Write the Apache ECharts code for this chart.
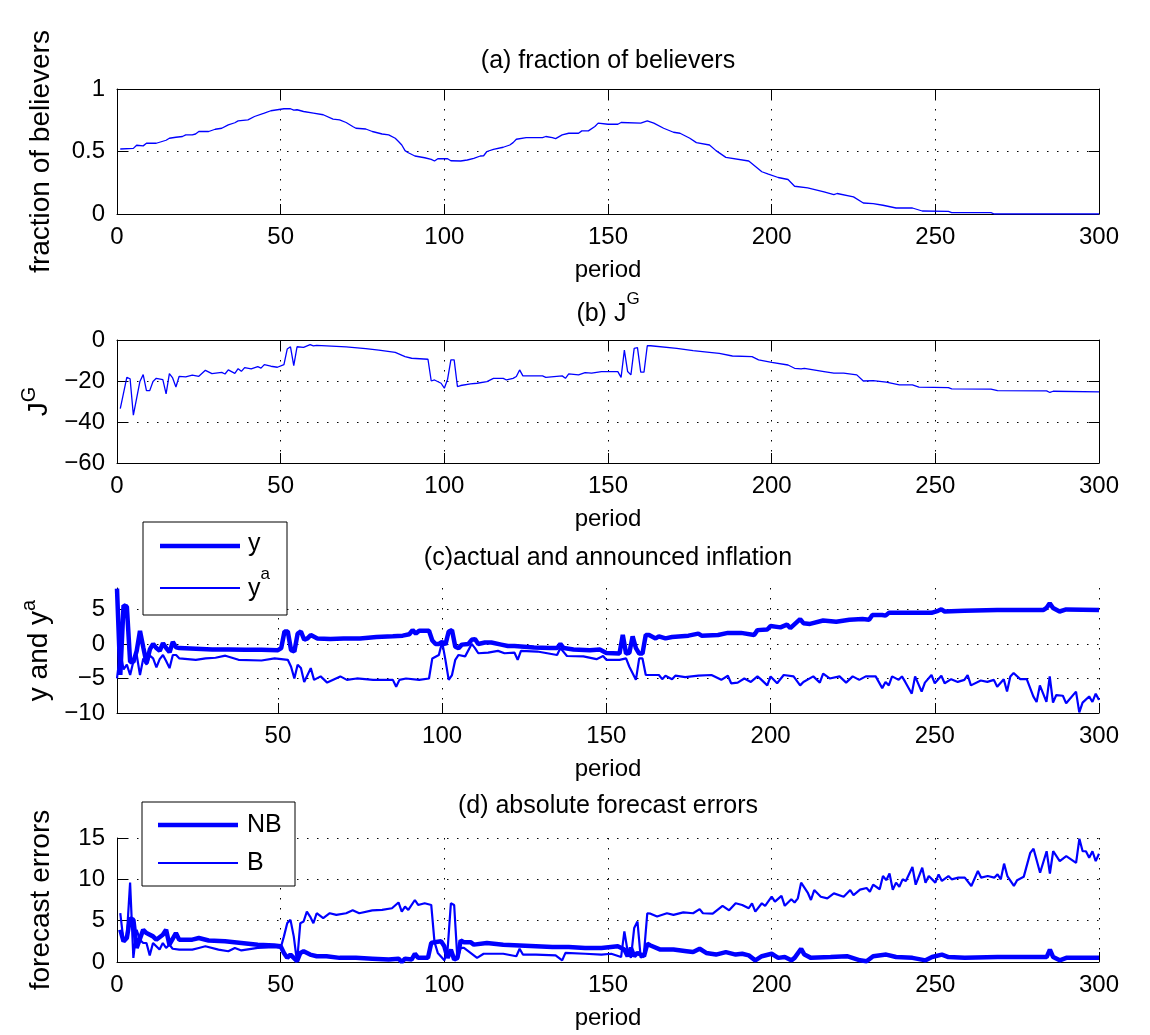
<!DOCTYPE html>
<html lang="en">
<head>
<meta charset="UTF-8">
<title>believers</title>
<script src="https://cdn.jsdelivr.net/npm/echarts@6/dist/echarts.min.js"></script>
</head>
<body style="margin:0;background:#fff">
<div id="main" style="width:1150px;height:1035px;"></div>
<script>
// (a) fraction of believers
var fracPeriods = [1,5,6,8,9,12,15,16,18,20,
  21,23,24,25,28,30,32,34,36,37,
  40,42,45,47,49,51,53,54,55,57,
  60,63,66,68,70,72,73,76,78,81,
  83,85,86,87,88,89,91,94,96,97,
  98,101,102,105,107,109,111,112,113,115,
  118,120,121,122,125,130,131,133,134,136,
  138,141,142,144,146,147,150,153,154,160,
  162,164,167,170,172,175,177,181,183,186,
  193,197,199,202,205,207,211,216,219,220,
  225,228,231,234,238,243,246,254,255,267,
  268,300];
var fracValues = [0.52,0.525,0.55,0.545,0.566,0.566,0.59,0.606,0.614,0.62,
  0.633,0.633,0.64,0.66,0.66,0.678,0.686,0.713,0.73,0.745,
  0.753,0.78,0.807,0.826,0.834,0.842,0.842,0.831,0.834,0.82,
  0.807,0.794,0.759,0.753,0.732,0.70,0.686,0.68,0.66,0.64,
  0.633,0.606,0.58,0.552,0.507,0.49,0.464,0.45,0.437,0.424,
  0.442,0.442,0.426,0.424,0.432,0.445,0.464,0.466,0.50,0.517,
  0.534,0.552,0.571,0.598,0.611,0.611,0.62,0.611,0.603,0.633,
  0.646,0.646,0.665,0.665,0.70,0.727,0.718,0.718,0.732,0.727,
  0.745,0.727,0.686,0.654,0.646,0.606,0.571,0.552,0.507,0.453,
  0.424,0.338,0.319,0.292,0.276,0.222,0.209,0.177,0.155,0.164,
  0.137,0.088,0.083,0.07,0.048,0.048,0.024,0.021,0.011,0.011,
  0,0];

// (b) J^G
var jgPeriods = [1,3,4,5,7,8,9,10,11,12,
  14,15,16,17,18,19,21,23,25,27,
  29,32,33,34,36,37,38,39,41,43,
  44,45,47,49,51,52,53,54,55,57,
  59,60,61,70,76,80,85,88,90,95,
  96,97,99,100,101,102,103,104,105,108,
  110,113,115,118,119,121,122,123,124,130,
  131,136,137,138,141,143,145,148,153,154,
  155,156,157,158,159,160,161,162,163,171,
  176,181,184,188,194,196,200,205,207,209,
  210,216,219,222,226,228,231,235,239,243,
  245,254,255,267,269,284,285,286,300];
var jgValues = [-33.5,-18.2,-18.9,-36.7,-20.2,-16.9,-24.7,-24.7,-20.2,-18.7,
  -19.3,-26.3,-16.4,-18.5,-22.9,-17.7,-18.0,-17.1,-17.7,-14.8,
  -16.4,-15.8,-16.6,-14.6,-16.3,-14.0,-15.3,-13.5,-14.1,-13.0,
  -13.7,-12.0,-12.8,-13.3,-12.0,-4.4,-3.3,-12.5,-3.3,-3.6,
  -2.3,-2.9,-2.6,-3.4,-4.2,-4.9,-6.0,-8.1,-8.9,-9.4,
  -20.0,-19.5,-21.1,-23.5,-19.1,-9.7,-9.7,-22.7,-22.2,-21.4,
  -21.1,-20.3,-18.7,-18.7,-19.5,-18.7,-17.8,-14.6,-17.5,-17.5,
  -18.2,-17.5,-18.7,-16.5,-17.0,-15.9,-16.2,-15.4,-15.4,-18.2,
  -4.9,-15.4,-17.0,-4.1,-3.7,-15.7,-15.7,-2.8,-2.8,-4.1,
  -5.2,-6.0,-6.5,-7.8,-8.1,-9.7,-10.9,-12.2,-13.8,-14.1,
  -13.8,-15.4,-16.2,-16.2,-17.0,-20.0,-19.8,-20.6,-21.9,-21.9,
  -23.0,-23.2,-23.8,-24.0,-24.7,-24.8,-25.6,-25.0,-25.3];

// (c) actual inflation y
var yPeriods = [1,2,3,4,5,6,7,8,9,10,
  11,12,13,14,15,16,17,18,19,20,
  25,30,35,40,45,50,51,52,53,54,
  55,56,57,58,59,60,62,66,70,75,
  80,85,88,90,91,92,93,96,97,98,
  99,100,101,102,103,104,105,106,108,109,
  110,111,113,115,118,120,122,125,128,133,
  135,136,137,140,145,148,150,154,155,156,
  157,158,159,160,161,162,163,165,166,168,
  170,175,178,179,184,187,191,195,196,199,
  200,203,205,206,209,210,212,216,220,224,
  228,230,231,234,235,236,244,249,251,252,
  253,259,269,283,284,285,286,288,290,300];
var yValues = [8.0,-4.5,5.6,5.4,-2.6,-2.6,-1.0,1.9,-0.5,-2.8,
  -0.8,0.0,-0.6,-1.0,0.1,-0.6,-1.2,0.3,-0.5,-0.6,
  -0.7,-0.8,-0.8,-0.85,-0.85,-0.9,-0.6,1.8,1.8,-0.9,
  -1.1,1.5,1.8,0.6,0.8,1.3,0.8,0.7,0.8,0.8,
  1.0,1.1,1.2,1.4,2.0,1.5,1.9,1.9,0.5,0.0,
  0.0,0.3,-0.1,1.8,2.0,-0.4,-0.6,-0.1,0.0,0.6,
  0.7,0.0,0.2,0.2,-0.1,-0.3,-0.3,-0.4,-0.5,-0.6,
  -0.6,0.0,-0.6,-0.8,-0.9,-0.8,-1.3,-1.4,1.3,-1.4,
  -1.3,1.1,-0.6,-1.4,-1.4,1.3,1.3,0.8,1.1,0.8,
  1.0,1.2,1.5,1.2,1.3,1.6,1.6,1.3,2.0,2.1,
  2.6,2.4,2.8,2.3,3.6,3.0,2.9,3.4,3.2,3.5,
  3.6,3.5,4.2,4.2,4.1,4.5,4.5,4.5,4.8,5.0,
  4.7,4.8,4.9,4.9,5.2,5.9,5.2,4.7,5.0,4.9];

// (c) announced inflation y^a
var yaPeriods = [1,2,3,4,5,6,7,8,9,10,
  11,12,13,14,15,16,17,18,19,20,
  25,28,31,34,38,45,49,51,53,54,
  55,56,57,58,60,61,63,65,69,71,
  74,79,85,86,87,89,93,96,97,99,
  100,101,102,103,104,105,107,109,110,111,
  114,117,119,122,123,124,129,135,136,138,
  143,147,149,150,154,156,157,159,160,161,
  162,166,167,168,170,171,174,178,182,185,
  187,188,190,192,194,196,197,199,200,202,
  204,207,209,210,213,215,216,218,221,223,
  225,227,229,232,234,235,236,237,239,240,
  241,243,244,246,247,249,250,252,253,255,
  257,259,260,261,264,266,268,269,271,272,
  273,274,276,278,280,281,282,284,285,286,
  287,289,290,293,294,295,297,298,299,300];
var yaValues = [-5.0,-1.1,-3.7,-3.0,-4.5,-2.5,-1.6,-4.5,-2.1,-3.0,
  -1.7,-2.1,-3.4,-2.2,-1.6,-2.5,-3.5,-1.6,-1.6,-2.1,
  -2.3,-2.1,-2.0,-1.7,-2.3,-2.4,-2.1,-2.2,-2.3,-3.3,
  -5.0,-3.0,-3.5,-5.5,-3.5,-5.2,-4.7,-5.6,-4.7,-5.2,
  -5.0,-5.2,-5.2,-6.2,-5.2,-5.0,-5.2,-5.0,-2.1,-1.6,
  0.3,-2.3,-5.2,-4.5,-2.3,-1.6,-1.8,0.0,-0.6,-1.35,
  -1.25,-1.0,-1.35,-1.25,-2.3,-1.0,-1.1,-1.6,-0.6,-1.75,
  -1.8,-2.2,-1.75,-2.3,-2.3,-2.1,-3.3,-5.2,-2.1,-2.1,
  -4.5,-4.5,-5.1,-4.6,-5.1,-4.6,-4.8,-4.6,-4.5,-5.2,
  -4.6,-5.7,-5.6,-5.0,-5.5,-4.7,-5.1,-6.0,-4.7,-5.7,
  -4.5,-4.7,-6.0,-5.5,-4.7,-5.6,-4.3,-5.0,-4.7,-5.6,
  -4.7,-5.2,-4.7,-4.7,-6.4,-5.5,-6.0,-4.7,-5.2,-4.7,
  -5.5,-7.2,-4.7,-6.9,-5.6,-4.5,-5.7,-4.6,-5.7,-5.1,
  -5.5,-5.2,-4.5,-6.0,-5.3,-5.5,-5.2,-6.2,-5.1,-6.9,
  -4.7,-4.2,-5.1,-5.1,-7.6,-8.4,-6.0,-8.4,-4.7,-8.5,
  -7.4,-7.5,-8.6,-6.9,-9.9,-8.5,-7.6,-8.4,-7.2,-8.1];

// (d) absolute forecast errors, non-believers
var nbPeriods = [1,2,3,4,5,6,8,9,11,12,
  14,15,16,18,19,23,25,28,33,38,
  43,48,50,51,52,53,55,56,57,59,
  61,64,68,73,78,83,86,87,88,90,
  91,92,95,96,97,99,100,101,102,103,
  104,105,106,108,109,113,118,123,128,133,
  138,143,148,153,155,156,157,158,159,161,
  162,163,166,170,174,176,178,180,183,186,
  189,191,193,195,197,200,202,204,206,207,
  209,210,212,218,223,227,229,231,235,238,
  243,247,249,252,254,259,269,284,285,286,
  288,290,300];
var nbValues = [3.9,2.5,2.9,5.3,5.1,1.7,3.9,3.5,3.1,2.7,
  3.3,3.9,2.1,3.5,2.7,2.7,2.9,2.6,2.5,2.3,
  2.1,2.0,1.9,1.1,0.5,0.9,0.1,1.1,1.3,0.9,
  0.7,0.7,0.5,0.5,0.4,0.3,0.4,0.0,0.4,0.3,
  1.0,0.5,0.5,2.3,2.4,2.5,1.9,0.5,1.5,0.3,
  0.5,2.6,2.4,2.4,2.1,2.3,2.1,2.0,1.9,1.8,
  1.8,1.7,1.7,1.9,1.5,0.7,1.7,0.7,1.1,0.7,
  2.2,2.0,1.5,1.5,1.3,1.2,1.6,1.1,0.9,1.2,
  0.9,1.0,0.8,0.2,0.7,1.0,0.5,0.6,0.2,0.5,
  1.6,0.9,0.5,0.6,0.7,0.2,0.1,0.7,0.9,0.6,
  0.5,0.2,0.6,0.9,0.6,0.5,0.6,0.6,1.5,0.6,
  0.2,0.5,0.5];

// (d) absolute forecast errors, believers
var bPeriods = [1,2,3,4,5,6,7,8,9,10,
  11,12,13,14,15,16,17,19,23,25,
  27,31,34,36,38,43,48,50,51,52,
  53,54,55,56,57,58,59,60,61,63,
  65,67,70,72,74,78,81,84,86,87,
  88,89,91,92,94,96,97,98,100,101,
  102,103,104,105,106,108,110,112,118,122,
  123,124,128,134,136,137,143,148,151,154,
  155,156,157,158,159,160,161,162,163,165,
  168,170,173,176,178,179,182,185,187,189,
  191,193,194,195,197,198,200,201,203,204,
  206,207,208,209,211,212,213,215,217,219,
  222,224,225,227,229,230,231,233,234,235,
  236,237,238,239,240,241,243,244,246,247,
  248,250,251,252,254,255,257,259,261,263,
  264,266,268,269,270,271,272,274,275,277,
  279,280,282,284,285,286,288,290,293,294,
  295,296,297,298,299,300];
var bValues = [5.9,2.5,3.1,9.6,0.5,3.9,2.7,2.3,2.3,0.8,
  2.3,1.9,1.5,2.3,1.7,2.1,1.6,1.5,1.5,1.7,
  1.9,1.5,1.3,1.7,1.4,1.7,1.8,1.7,3.1,4.7,
  5.1,3.1,0.0,4.7,4.9,6.1,5.5,4.7,5.9,5.3,
  5.9,5.7,5.9,6.25,5.9,6.25,6.3,6.5,7.2,6.1,
  6.7,6.3,7.5,6.9,7.1,6.9,2.4,1.1,0.2,1.5,
  7.1,6.9,0.3,1.7,1.7,1.1,0.5,1.0,1.0,0.7,
  1.6,0.9,0.9,0.8,0.2,1.1,1.0,0.9,1.0,0.6,
  3.7,1.3,0.5,4.1,4.9,0.5,1.1,5.9,5.85,5.5,
  5.9,5.7,6.0,5.9,6.4,5.9,5.85,6.8,6.25,7.1,
  6.9,6.5,7.1,6.1,7.1,6.8,7.9,7.3,8.0,6.8,
  7.6,7.2,7.7,9.6,8.4,7.5,8.7,7.9,7.7,8.3,
  7.9,8.7,8.1,8.75,8.95,8.5,9.35,8.8,10.4,9.9,
  10.7,8.75,9.6,9.1,10.0,9.8,11.5,9.35,11.4,9.6,
  10.4,9.6,10.6,9.8,10.4,10.0,10.2,10.2,9.2,11.0,
  10.2,10.4,10.2,10.6,10.0,11.9,10.4,9.2,9.9,10.3,
  13.2,13.7,10.8,13.4,10.7,13.4,12.2,12.8,12.0,14.9,
  13.4,13.4,12.6,13.4,12.2,13.1];

var cTicksX = [50, 100, 150, 200, 250, 300];
var cTicksY = [-10, -5, 0, 5];

function zip(p, v) {
  return p.map(function (t, i) { return [t, v[i]]; });
}

var font = 'Liberation Sans, Arial, Helvetica, sans-serif';
var blue = '#0000ff';
var dots = { color: '#000', width: 1, type: [1.5, 8.5] };
// matlab style minus sign
function tickFmt(v) { return String(v).replace('-', '\u2212'); }
var tickFont = { color: '#000', fontSize: 24, fontFamily: font, formatter: tickFmt };

function xBottom(g, opt) {
  var a = {
    type: 'value', gridIndex: g, position: 'bottom', min: opt.min, max: 300,
    axisLine: { onZero: false, lineStyle: { color: '#000', width: 1 } },
    axisTick: { inside: true, length: 10, lineStyle: { color: '#000' } },
    axisLabel: Object.assign({ margin: 11 }, tickFont),
    splitLine: { show: true, lineStyle: dots },
    name: 'period', nameLocation: 'middle', nameGap: 44,
    nameTextStyle: { color: '#000', fontSize: 24, fontFamily: font }
  };
  if (opt.custom) {
    a.axisTick.customValues = opt.custom;
    a.axisLabel.customValues = opt.custom;
  } else {
    a.interval = 50;
  }
  return a;
}
function yLeft(g, opt) {
  var a = {
    type: 'value', gridIndex: g, position: 'left', min: opt.min, max: opt.max,
    axisLine: { show: true, onZero: false, lineStyle: { color: '#000', width: 1 } },
    axisTick: { show: true, inside: true, length: 10, lineStyle: { color: '#000' } },
    axisLabel: Object.assign({ margin: 12 }, tickFont),
    splitLine: { show: true, lineStyle: dots },
    name: opt.name, nameLocation: 'middle', nameGap: 62,
    nameTextStyle: {
      color: '#000', fontSize: 28, fontFamily: font,
      rich: {
        n: { fontSize: 28, fontFamily: font, color: '#000', lineHeight: 34, verticalAlign: 'bottom' },
        s: { fontSize: 20, fontFamily: font, color: '#000', lineHeight: 34, verticalAlign: 'top' }
      }
    }
  };
  if (opt.custom) {
    a.axisTick.customValues = opt.custom;
    a.axisLabel.customValues = opt.custom;
  } else {
    a.interval = opt.interval;
  }
  return a;
}
function mirrorX(g) {
  return {
    type: 'value', gridIndex: g, position: 'top', min: 0, max: 300, interval: 50,
    axisLine: { onZero: false, lineStyle: { color: '#000', width: 1 } },
    axisTick: { inside: true, length: 10, lineStyle: { color: '#000' } },
    axisLabel: { show: false }, splitLine: { show: false }
  };
}
function mirrorY(g, min, max, interval) {
  return {
    type: 'value', gridIndex: g, position: 'right', min: min, max: max, interval: interval,
    axisLine: { show: true, onZero: false, lineStyle: { color: '#000', width: 1 } },
    axisTick: { show: true, inside: true, length: 10, lineStyle: { color: '#000' } },
    axisLabel: { show: false }, splitLine: { show: false }
  };
}
function line(xi, data, width) {
  return {
    type: 'line', xAxisIndex: xi, yAxisIndex: xi, data: data,
    symbol: 'none', showSymbol: false, silent: true,
    lineStyle: { color: blue, width: width }, itemStyle: { color: blue }
  };
}

var supRich = {
  n: { fontSize: 25, fontFamily: font, fill: '#000', lineHeight: 36, verticalAlign: 'bottom' },
  s: { fontSize: 17, fontFamily: font, fill: '#000', lineHeight: 36, verticalAlign: 'top' }
};
function label(x, y, text, align) {
  return {
    type: 'text', x: x, y: y, z: 100,
    style: { text: text, font: '25px ' + font, fill: '#000', align: align || 'center', verticalAlign: 'middle', rich: supRich }
  };
}

var chart = echarts.init(document.getElementById('main'));
var option = {
  animation: false,
  backgroundColor: '#fff',
  grid: [
    { left: 117, top: 89, width: 982, height: 125 },
    { left: 117, top: 340, width: 982, height: 123 },
    { left: 117, top: 588, width: 982, height: 125 },
    { left: 117, top: 838, width: 982, height: 124 }
  ],
  xAxis: [
    xBottom(0, { min: 0 }),
    xBottom(1, { min: 0 }),
    xBottom(2, { min: 1, custom: cTicksX }),
    xBottom(3, { min: 0 }),
    mirrorX(0),
    mirrorX(1)
  ],
  yAxis: [
    yLeft(0, { min: 0, max: 1, interval: 0.5, name: 'fraction of believers' }),
    yLeft(1, { min: -60, max: 0, interval: 20, name: '{n|J}{s|G}' }),
    yLeft(2, { min: -10, max: 8.1, custom: cTicksY, name: '{n|y and y}{s|a}' }),
    yLeft(3, { min: 0, max: 15, interval: 5, name: 'forecast errors' }),
    mirrorY(0, 0, 1, 0.5),
    mirrorY(1, -60, 0, 20)
  ],
  series: [
    line(0, zip(fracPeriods, fracValues), 1.3),
    line(1, zip(jgPeriods, jgValues), 1.3),
    line(2, zip(yPeriods, yValues), 4.5),
    line(2, zip(yaPeriods, yaValues), 2.2),
    line(3, zip(nbPeriods, nbValues), 4.5),
    line(3, zip(bPeriods, bValues), 2.2)
  ],
  graphic: [
    label(608, 61, '(a) fraction of believers'),
    label(608, 309, '{n|(b) J}{s|G}'),
    label(608, 558, '(c)actual and announced inflation'),
    label(608, 806, '(d) absolute forecast errors'),
    { type: 'rect', z: 90, shape: { x: 143, y: 522, width: 144, height: 93 },
      style: { fill: '#fff', stroke: '#000', lineWidth: 1 } },
    { type: 'line', z: 100, shape: { x1: 160, y1: 546, x2: 240, y2: 546 }, style: { stroke: blue, lineWidth: 4.5 } },
    { type: 'line', z: 100, shape: { x1: 160, y1: 588, x2: 240, y2: 588 }, style: { stroke: blue, lineWidth: 2.2 } },
    label(248, 544, 'y', 'left'),
    label(248, 584, '{n|y}{s|a}', 'left'),
    { type: 'rect', z: 90, shape: { x: 142, y: 802, width: 153, height: 84 },
      style: { fill: '#fff', stroke: '#000', lineWidth: 1 } },
    { type: 'line', z: 100, shape: { x1: 158, y1: 825, x2: 238, y2: 825 }, style: { stroke: blue, lineWidth: 4.5 } },
    { type: 'line', z: 100, shape: { x1: 158, y1: 863, x2: 238, y2: 863 }, style: { stroke: blue, lineWidth: 2.2 } },
    label(247, 825, 'NB', 'left'),
    label(247, 863, 'B', 'left')
  ]
};
chart.setOption(option);
</script>
</body>
</html>
